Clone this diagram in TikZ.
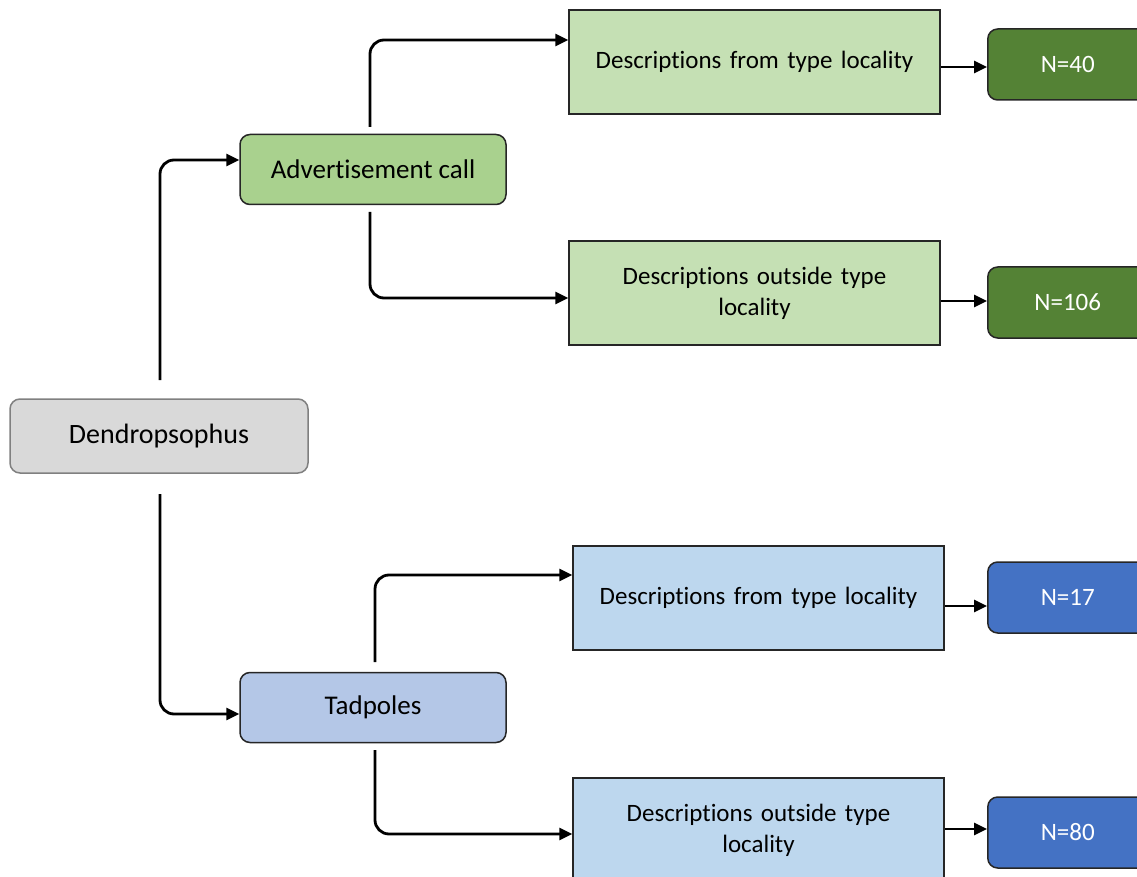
\documentclass[tikz,border=0pt]{standalone}
\usepackage{fontspec}
\setmainfont[Ligatures=NoCommon]{Carlito}
\usetikzlibrary{arrows.meta}
\definecolor{grayfill}{HTML}{D9D9D9}
\definecolor{grayline}{HTML}{808080}
\definecolor{greenmid}{HTML}{A9D18E}
\definecolor{greenlight}{HTML}{C5E0B4}
\definecolor{greendark}{HTML}{548235}
\definecolor{bluemid}{HTML}{B4C7E7}
\definecolor{bluelight}{HTML}{BDD7EE}
\definecolor{bluedark}{HTML}{4472C4}
\begin{document}
\begin{tikzpicture}[x=1pt,y=-1pt,
  base/.style={draw=black!85, line width=1.5pt, inner sep=0pt, align=center},
  rootbox/.style={base, draw=grayline, fill=grayfill, rounded corners=10pt, minimum width=298pt, minimum height=74pt, font=\fontsize{28}{32}\selectfont},
  catbox/.style={base, rounded corners=10pt, minimum width=266pt, minimum height=70pt, font=\fontsize{27}{31}\selectfont},
  descbox/.style={base, minimum width=371pt, minimum height=104pt, text width=340pt, font=\fontsize{25}{31}\selectfont},
  nbox/.style={base, rounded corners=10pt, minimum width=170pt, minimum height=71pt, text=white, font=\fontsize{25}{29}\selectfont},
  conn/.style={line width=2.8pt, rounded corners=14pt, -{Triangle[length=13pt,width=12pt]}},
  short/.style={line width=2.8pt, -{Triangle[length=13pt,width=12pt]}}
]
\clip (0,0) rectangle (1137,877);
\fill[white] (0,0) rectangle (1137,877);

\node[rootbox] (root) at (159,436) {Dendropsophus};
\node[catbox, fill=greenmid] (adv) at (373,169.5) {Advertisement call};
\node[catbox, fill=bluemid] (tad) at (373,707.5) {Tadpoles};

\node[descbox, fill=greenlight] (d1) at (754.5,62) {Descriptions from type locality};
\node[descbox, fill=greenlight] (d2) at (754.5,293) {Descriptions outside type\\locality};
\node[descbox, fill=bluelight] (d3) at (758.5,598) {Descriptions from type locality};
\node[descbox, fill=bluelight] (d4) at (758.5,830) {Descriptions outside type\\locality};

\node[nbox, fill=greendark, anchor=west] (n1) at (987,64.5) {\hspace*{-10pt}N=40};
\node[nbox, fill=greendark, anchor=west] (n2) at (987,302.5) {\hspace*{-10pt}N=106};
\node[nbox, fill=bluedark, anchor=west] (n3) at (987,597.5) {\hspace*{-10pt}N=17};
\node[nbox, fill=bluedark, anchor=west] (n4) at (987,832.5) {\hspace*{-10pt}N=80};

\coordinate (r1) at (160,380);
\coordinate (r2) at (160,494);
\coordinate (a1) at (370,127);
\coordinate (a2) at (370,212);
\coordinate (t1) at (375,662);
\coordinate (t2) at (375,750);

\draw[conn] (r1) |- (adv.west |- 0,160);
\draw[conn] (r2) |- (tad.west |- 0,714);
\draw[conn] (a1) |- (d1.west |- 0,40);
\draw[conn] (a2) |- (d2.west |- 0,298);
\draw[conn] (t1) |- (d3.west |- 0,575);
\draw[conn] (t2) |- (d4.west |- 0,834);

\draw[short] (d1.east |- 0,67) -- (n1.west |- 0,67);
\draw[short] (d2.east |- 0,301) -- (n2.west |- 0,301);
\draw[short] (d3.east |- 0,606) -- (n3.west |- 0,606);
\draw[short] (d4.east |- 0,829) -- (n4.west |- 0,829);
\end{tikzpicture}
\end{document}
